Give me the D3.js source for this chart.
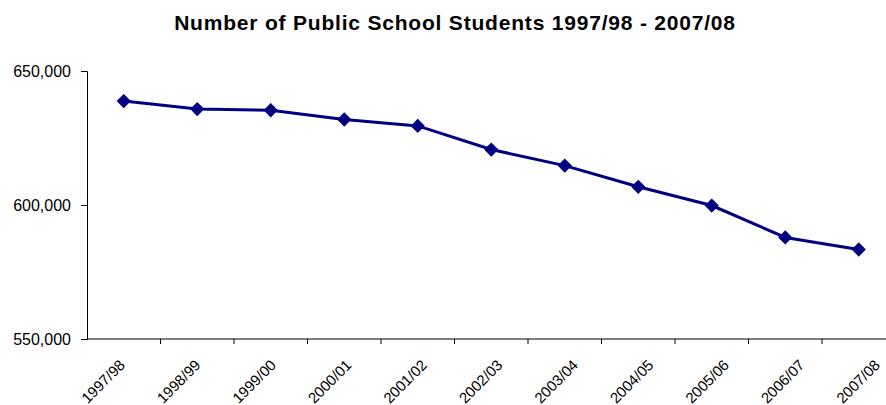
<!doctype html>
<html>
<head>
<meta charset="utf-8">
<title>Number of Public School Students</title>
<script src="https://cdnjs.cloudflare.com/ajax/libs/d3/7.8.5/d3.min.js"></script>
<style>
  body { margin: 0; background: #fff; }
  svg { display: block; font-family: "Liberation Sans", Arial, sans-serif; }
</style>
</head>
<body>
<svg id="chart" width="886" height="405"></svg>
<script>
// data
var years = ["1997/98", "1998/99", "1999/00", "2000/01", "2001/02", "2002/03",
             "2003/04", "2004/05", "2005/06", "2006/07", "2007/08"];
var students = [638800, 635800, 635350, 631900, 629500, 620700,
                614700, 606800, 599800, 587900, 583400];
var yTicks = [550000, 600000, 650000];

var svg = d3.select("#chart");
var plotLeft = 87, plotTop = 71, plotBottom = 339, band = 73.5;

var x = d3.scaleBand().domain(years).range([plotLeft, plotLeft + band * years.length]);
var y = d3.scaleLinear().domain([550000, 650000]).range([plotBottom, plotTop]);
// the category labels drift a little wider than the bands, as in the original
var xLabel = d3.scalePoint().domain(years).range([123, 878]);

svg.append("text")
    .attr("x", 455).attr("y", 30)
    .attr("text-anchor", "middle")
    .style("font-size", "21px").style("font-weight", "bold")
    .style("letter-spacing", "0.8px")
    .text("Number of Public School Students 1997/98 - 2007/08");

// y axis
var yAxis = svg.append("g")
    .attr("transform", "translate(" + plotLeft + ",0)")
    .call(d3.axisLeft(y).tickValues(yTicks).tickSize(6).tickPadding(10)
        .tickFormat(d3.format(",")));
yAxis.select(".domain").attr("stroke", "#000");
yAxis.selectAll(".tick line").attr("stroke", "#000");
yAxis.selectAll(".tick text").style("font-size", "16px").attr("fill", "#000")
    .style("font-family", "Liberation Sans, Arial, sans-serif");

// x axis, ticks on band edges
var xAxis = svg.append("g")
    .attr("transform", "translate(0," + plotBottom + ")");
xAxis.append("line")
    .attr("x1", plotLeft).attr("x2", x.range()[1])
    .attr("stroke", "#000");
xAxis.selectAll(".tk")
    .data(years)
    .enter().append("line")
    .attr("x1", d => x(d) + band).attr("x2", d => x(d) + band)
    .attr("y1", 0).attr("y2", 5)
    .attr("stroke", "#000");
xAxis.selectAll(".lbl")
    .data(years)
    .enter().append("text")
    .attr("transform", d => "translate(" + (xLabel(d) + 3) + ",27) rotate(-45)")
    .attr("text-anchor", "end")
    .style("font-size", "15px")
    .text(d => d);

var line = d3.line()
    .x((d, i) => x(years[i]) + band / 2)
    .y(d => y(d));

svg.append("path")
    .datum(students)
    .attr("d", line)
    .attr("fill", "none")
    .attr("stroke", "#000080")
    .attr("stroke-width", 3);

svg.selectAll(".pt")
    .data(students)
    .enter().append("path")
    .attr("transform", (d, i) => "translate(" + (x(years[i]) + band / 2) + "," + y(d) + ")")
    .attr("d", d3.symbol(d3.symbolDiamond2, 130))
    .attr("fill", "#000080");
</script>
</body>
</html>
